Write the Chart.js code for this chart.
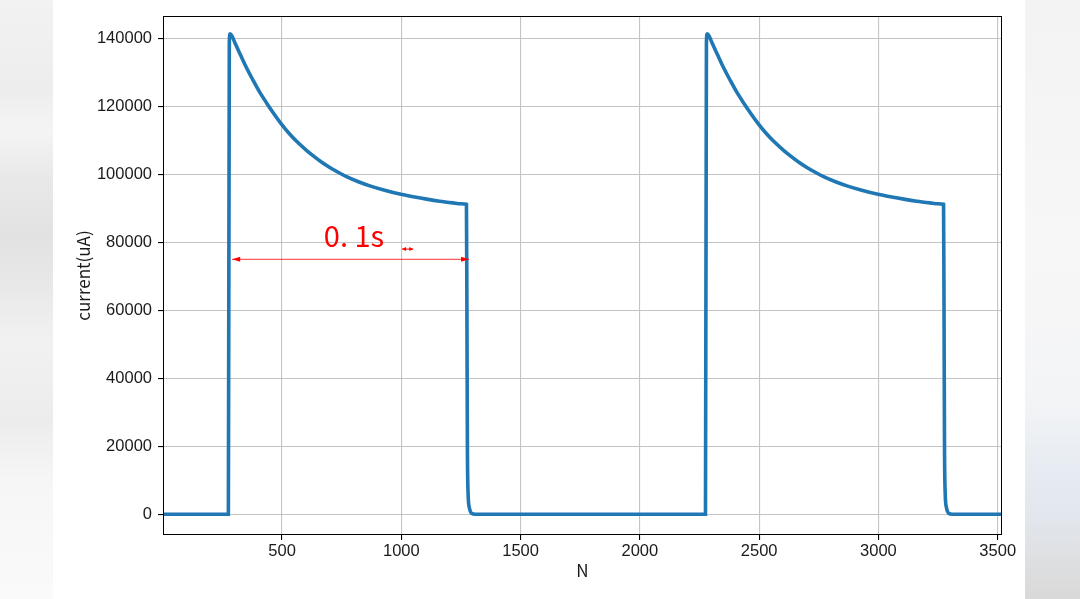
<!DOCTYPE html>
<html>
<head>
<meta charset="utf-8">
<script src="https://cdn.jsdelivr.net/npm/chart.js@4.4.1/dist/chart.umd.min.js"></script>
<style>
    html, body { margin: 0; padding: 0; background: #fff; }
    #page { position: relative; width: 1080px; height: 599px; overflow: hidden; background: #fff; }
    #leftBlur {
        position: absolute; left: 0; top: 0; width: 53px; height: 599px;
        background: linear-gradient(to bottom, #f2f2f2 0px, #ededed 90px, #f4f4f4 130px, #e9e9e9 175px, #e2e2e2 235px, #e9e9e9 290px, #f1f1f1 340px, #ececec 420px, #f6f6f6 480px, #fafafa 599px);
    }
    #rightBlur {
        position: absolute; left: 1025px; top: 0; width: 55px; height: 599px;
        background: linear-gradient(to bottom, #f3f3f3 0px, #f7f7f7 250px, #f3f4f6 400px, #e7ecf2 465px, #e2e7ee 515px, #dedfe1 560px, #d9d9d9 599px);
    }
    #chart { position: absolute; left: 0; top: 0; }
</style>
</head>
<body>
<div id="page">
    <div id="leftBlur"></div>
    <div id="rightBlur"></div>
    <canvas id="chart" width="1080" height="599"></canvas>
</div>
<script>
const nValues = [
    1, 275, 279, 282, 290, 300, 312, 324, 350, 379, 405, 435, 465, 495, 530,
    561, 600, 631, 665, 700, 735, 770, 820, 868, 930, 998, 1050, 1106, 1160,
    1217, 1250, 1273, 1275, 1277, 1280, 1285, 1292, 1302, 1320,
    2275, 2279, 2282, 2290, 2300, 2312, 2324, 2350, 2379, 2405, 2435, 2465,
    2495, 2530, 2561, 2600, 2631, 2665, 2700, 2735, 2770, 2820, 2868, 2930,
    2998, 3050, 3106, 3160, 3217, 3250, 3273, 3275, 3277, 3280, 3285, 3292,
    3302, 3320, 3530
];
const currentValues = [
    0, 0, 139000, 141300, 140700, 139100, 137200, 135400, 131500, 127600, 124300, 121000, 117900, 115000, 112000,
    109700, 107200, 105400, 103600, 102000, 100600, 99300, 97800, 96600, 95300, 94100, 93400, 92700, 92100,
    91600, 91350, 91180, 60000, 20000, 6000, 2000, 500, 100, 0,
    0, 139000, 141300, 140700, 139100, 137200, 135400, 131500, 127600, 124300, 121000, 117900,
    115000, 112000, 109700, 107200, 105400, 103600, 102000, 100600, 99300, 97800, 96600, 95300,
    94100, 93400, 92700, 92100, 91600, 91350, 91180, 60000, 20000, 6000, 2000, 500,
    100, 0, 0
];
const xTicks = [500, 1000, 1500, 2000, 2500, 3000, 3500];
const yTicks = [0, 20000, 40000, 60000, 80000, 100000, 120000, 140000];

const tickFont = { family: '"Liberation Sans", Arial, sans-serif', size: 16.5 };
const titleFont = { family: '"Noto Sans CJK SC", "Noto Sans", sans-serif', size: 17 };

// black frame round the plot area (matplotlib spines)
const framePlugin = {
    id: 'frame',
    afterDatasetsDraw(chart) {
        const { ctx, chartArea: a } = chart;
        ctx.save();
        ctx.strokeStyle = '#000';
        ctx.lineWidth = 1;
        ctx.strokeRect(a.left + 0.5, a.top + 0.5, a.right - a.left - 1, a.bottom - a.top - 1);
        ctx.restore();
    }
};

function drawArrow(ctx, x1, x2, y, head, half) {
    ctx.beginPath();
    ctx.moveTo(x1, y);
    ctx.lineTo(x2, y);
    ctx.stroke();
    ctx.beginPath();
    ctx.moveTo(x1, y);
    ctx.lineTo(x1 + head, y - half);
    ctx.lineTo(x1 + head, y + half);
    ctx.closePath();
    ctx.fill();
    ctx.beginPath();
    ctx.moveTo(x2, y);
    ctx.lineTo(x2 - head, y - half);
    ctx.lineTo(x2 - head, y + half);
    ctx.closePath();
    ctx.fill();
}

// red pulse-width annotation, placed in data coordinates
const annotationPlugin = {
    id: 'pulseWidth',
    afterDatasetsDraw(chart) {
        const { ctx } = chart;
        const xs = chart.scales.x;
        const ys = chart.scales.y;
        ctx.save();
        ctx.strokeStyle = '#ff0000';
        ctx.fillStyle = '#ff0000';
        ctx.lineWidth = 0.8;
        const y = ys.getPixelForValue(75000);
        drawArrow(ctx, xs.getPixelForValue(291), xs.getPixelForValue(1284), y, 8, 2.5);
        ctx.lineWidth = 1;
        drawArrow(ctx, xs.getPixelForValue(1003), xs.getPixelForValue(1050), ys.getPixelForValue(78000), 4, 2);
        ctx.font = '29px "Noto Sans CJK SC", "Noto Sans", sans-serif';
        ctx.textBaseline = 'alphabetic';
        ctx.textAlign = 'left';
        ctx.fillText('0. 1s', xs.getPixelForValue(675), ys.getPixelForValue(78700));
        ctx.restore();
    }
};

const ctx = document.getElementById('chart').getContext('2d');
new Chart(ctx, {
    type: 'line',
    data: {
        datasets: [{
            data: nValues.map((n, i) => ({ x: n, y: currentValues[i] })),
            borderColor: '#1f77b4',
            borderWidth: 3.6,
            pointRadius: 0,
            cubicInterpolationMode: 'monotone',
            fill: false
        }]
    },
    options: {
        responsive: false,
        animation: false,
        devicePixelRatio: 1,
        layout: { padding: { left: 69, top: 16, right: 78, bottom: 14.4 } },
        plugins: {
            legend: { display: false },
            tooltip: { enabled: false }
        },
        scales: {
            x: {
                type: 'linear',
                min: 1,
                max: 3518,
                afterBuildTicks: scale => { scale.ticks = xTicks.map(v => ({ value: v })); },
                afterFit: scale => { scale.height = 49.6; },
                ticks: {
                    color: '#1a1a1a',
                    font: tickFont,
                    padding: 2,
                    maxRotation: 0,
                    autoSkip: false,
                    callback: v => String(v)
                },
                grid: { color: '#c4c4c4', lineWidth: 1.1, tickColor: '#000', tickLength: 5 },
                border: { display: false },
                title: { display: true, text: 'N', color: '#1a1a1a', font: titleFont, padding: { top: 4, bottom: 4 } }
            },
            y: {
                type: 'linear',
                min: -6090,
                max: 146560,
                afterBuildTicks: scale => { scale.ticks = yTicks.map(v => ({ value: v })); },
                afterFit: scale => { scale.width = 94; },
                ticks: {
                    color: '#1a1a1a',
                    font: tickFont,
                    padding: 6,
                    autoSkip: false,
                    callback: v => String(v)
                },
                grid: { color: '#c4c4c4', lineWidth: 1.1, tickColor: '#000', tickLength: 5 },
                border: { display: false },
                title: { display: true, text: 'current(uA)', color: '#1a1a1a', font: titleFont, padding: { top: 4, bottom: 4 } }
            }
        }
    },
    plugins: [framePlugin, annotationPlugin]
});
</script>
</body>
</html>
